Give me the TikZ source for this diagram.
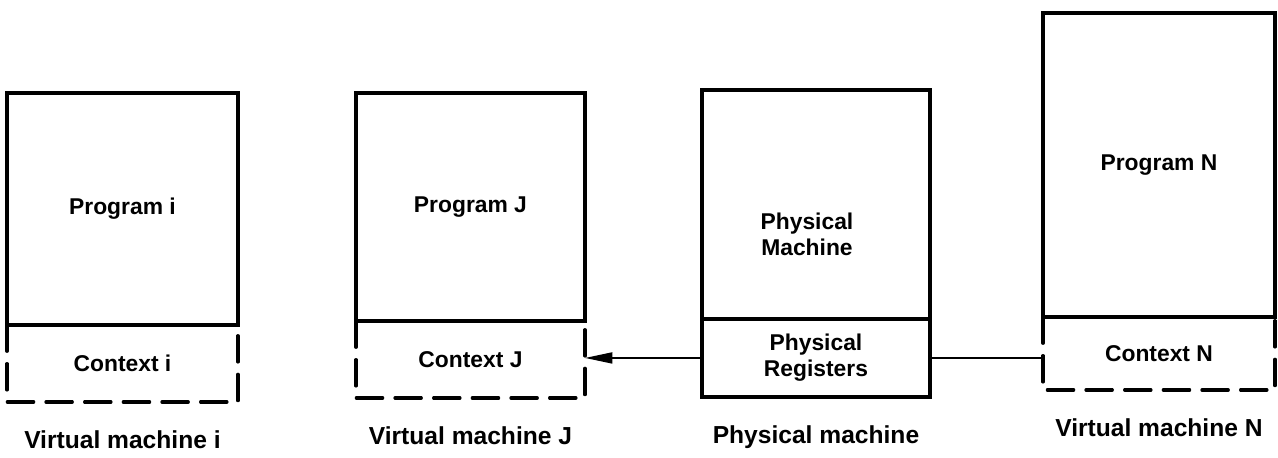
\documentclass[tikz,border=0pt]{standalone}
\usepackage{fontspec}
\setmainfont{Liberation Sans}
\usetikzlibrary{positioning,arrows.meta}

\begin{document}
\begin{tikzpicture}[x={(0.02cm,0cm)}, y={(0cm,-0.02cm)},
    every node/.append style={font=\bfseries\fontsize{13}{15}\selectfont, align=center, outer sep=0pt},
    progbox/.style={draw, line width=1.8pt, anchor=north west, inner sep=0pt},
    ctxbox/.style={inner sep=0pt, below=0pt of #1},
    ctxline/.style={line width=1.8pt, dash pattern=on 15pt off 7pt, line cap=round},
    vmlabel/.style={font=\bfseries\fontsize{14}{16}\selectfont},
    wire/.style={line width=1.1pt}]

   \useasboundingbox (0,0) rectangle (1278,457);

   %% program part on top, context hung below it
   \node[progbox, minimum width=4.62cm, minimum height=4.64cm] (progi) at (7,93) {Program i};
   \node[ctxbox=progi, minimum width=4.62cm, minimum height=1.54cm] (ctxi) {Context i};

   \node[progbox, minimum width=4.58cm, minimum height=4.56cm] (progj) at (356,93) {Program J};
   \node[ctxbox=progj, minimum width=4.58cm, minimum height=1.54cm] (ctxj) {Context J};

   \node[progbox, minimum width=4.56cm, minimum height=4.58cm] (physm) at (702,90) {};
   \node (physt) at ([xshift=-0.18cm, yshift=-0.6cm]physm.center) {Physical\\Machine};
   \node[ctxbox=physm, draw, line width=1.8pt, minimum width=4.56cm, minimum height=1.56cm] (physr) {Physical\\Registers};

   \node[progbox, minimum width=4.64cm, minimum height=6.08cm] (progn) at (1043,13) {Program N};
   \node[ctxbox=progn, minimum width=4.64cm, minimum height=1.46cm] (ctxn) {Context N};

   %% dashed sides of the contexts
   \foreach \p/\c in {progi/ctxi, progj/ctxj, progn/ctxn}
       \draw[ctxline] (\p.south west) -- (\c.south west) -- (\c.south east) -- (\p.south east);

   \draw[wire, -{Triangle[length=5.5mm, width=2.2mm]}] (physr.west) -- (physr.west -| ctxj.east);
   \draw[wire] (physr.east) -- (physr.east -| ctxn.west);

   \node[vmlabel, below=0.45cm of ctxi] (vmi) {Virtual machine i};
   \node[vmlabel, below=0.45cm of ctxj] (vmj) {Virtual machine J};
   \node[vmlabel, below=0.45cm of physr] (pm) {Physical machine};
   \node[vmlabel, below=0.45cm of ctxn] (vmn) {Virtual machine N};
\end{tikzpicture}
\end{document}
